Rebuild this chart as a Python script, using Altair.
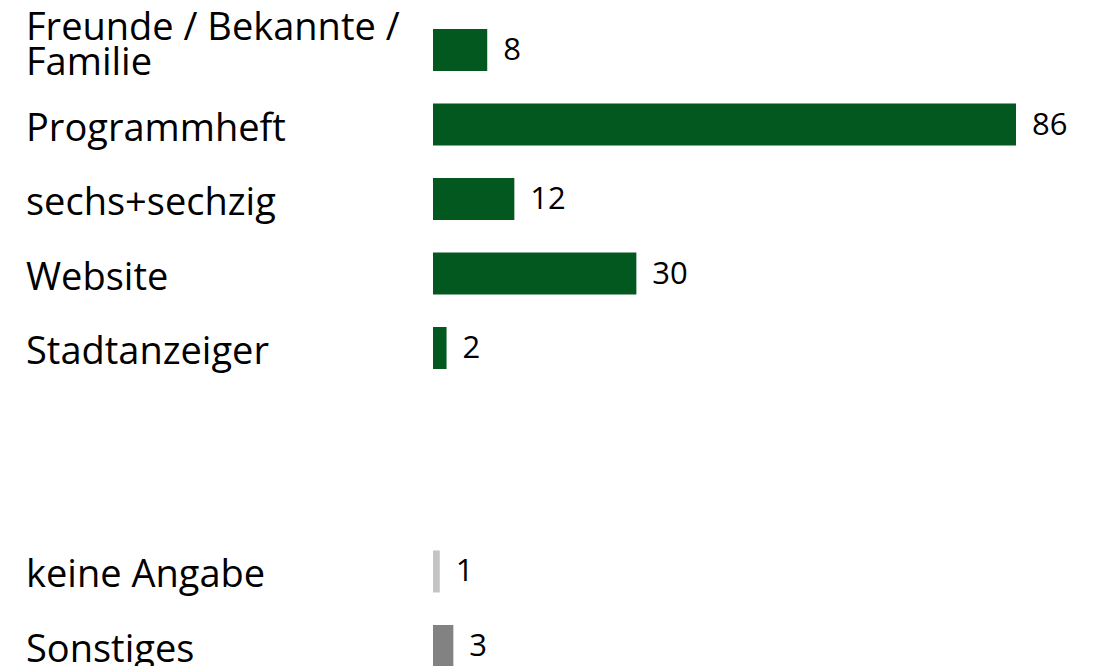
import altair as alt
import pandas as pd

categories = ["Freunde / Bekannte / Familie", "Programmheft", "sechs+sechzig", "Website",
              "Stadtanzeiger", "gap1", "gap2", "keine Angabe", "Sonstiges"]
labels = ["Freunde / Bekannte /\nFamilie", "Programmheft", "sechs+sechzig", "Website",
          "Stadtanzeiger", "", "", "keine Angabe", "Sonstiges"]
values = [8, 86, 12, 30, 2, None, None, 1, 3]
colors = ["#03581F", "#03581F", "#03581F", "#03581F", "#03581F", "#ffffff", "#ffffff", "#C4C4C4", "#828282"]

df = pd.DataFrame({"cat": categories, "label": labels, "value": values, "color": colors})
df["vtext"] = [("" if v is None or pd.isna(v) else str(int(v))) for v in df["value"]]
df["multi"] = df["label"].str.contains("\n")
bars_df = df[df["value"].notna()]

font = "Open Sans"
y = alt.Y("cat:N", sort=categories, axis=None,
          scale=alt.Scale(domain=categories, paddingInner=0.436, paddingOuter=0.282))
x = alt.X("value:Q", axis=None, scale=alt.Scale(domain=[0, 86], nice=False, zero=True))

base = alt.Chart(bars_df)
bars = base.mark_bar().encode(x=x, y=y, color=alt.Color("color:N", scale=None))
vals = base.mark_text(align="left", baseline="middle", dx=16, dy=1, fontSize=31, font=font, color="#000000").encode(
    x=x, y=y, text="vtext:N")
lab1 = alt.Chart(df[~df["multi"]]).mark_text(align="left", baseline="middle", dy=5, fontSize=38, font=font,
                                             color="#000000").encode(
    x=alt.value(-407), y=y, text="label:N")
lab2 = alt.Chart(df[df["multi"]]).mark_text(align="left", baseline="middle", dy=-21, fontSize=38, font=font,
                                            color="#000000", lineBreak="\n", lineHeight=35).encode(
    x=alt.value(-407), y=y, text="label:N")

chart = alt.layer(bars, vals, lab1, lab2).properties(
    width=583, height=680,
    padding={"left": 425, "top": 0, "right": 70, "bottom": 0},
    autosize="none",
).configure_view(stroke=None)

chart.save("out.html", embed_options={"renderer": "svg", "actions": False})
